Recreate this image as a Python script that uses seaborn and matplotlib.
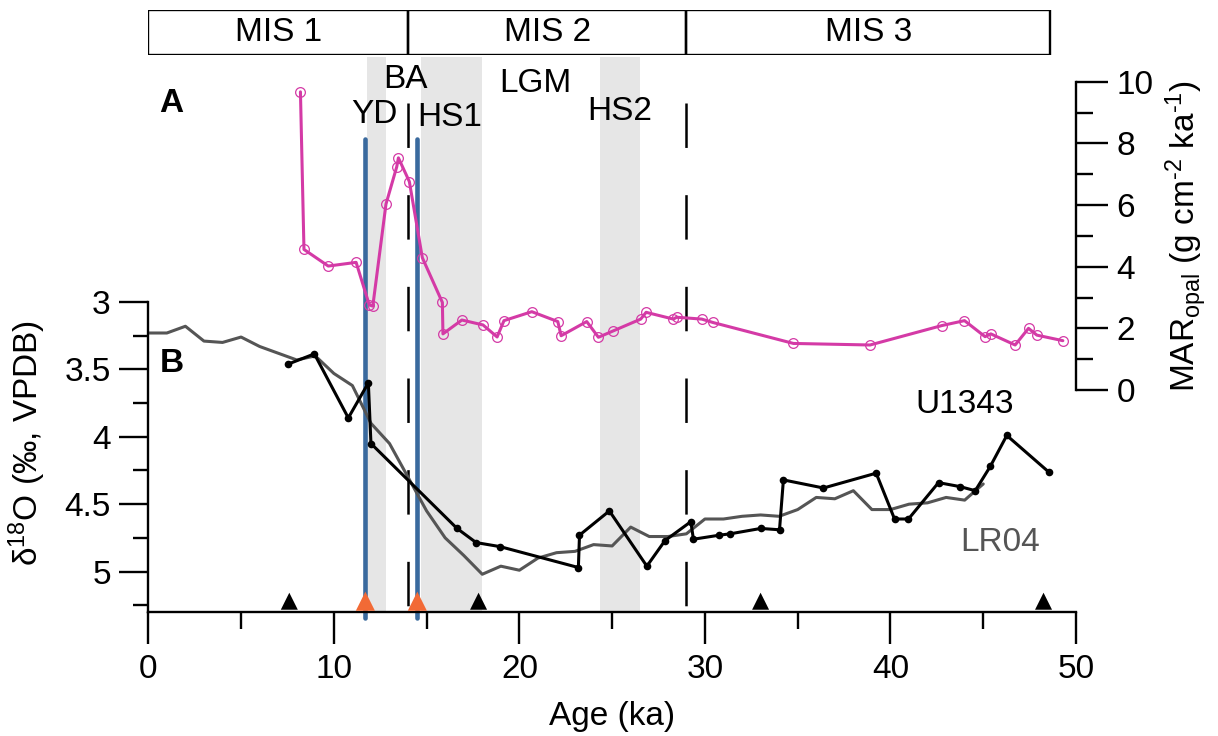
import matplotlib
matplotlib.use("Agg")
import matplotlib.pyplot as plt
from matplotlib.patches import Rectangle
from matplotlib.ticker import MultipleLocator
import seaborn as sns
import pandas as pd

# ---------------- data ----------------
# MIS stage boundaries (ka)
mis_labels = ["MIS 1", "MIS 2", "MIS 3"]
mis_start = [0.0, 14.0, 29.0]
mis_end = [14.0, 29.0, 48.6]

# shaded events (ka)
event_labels = ["YD", "HS1", "HS2"]
event_start = [11.8, 14.68, 24.35]
event_end = [12.8, 18.0, 26.5]

# dashed boundaries (ka)
dashed_ages = [14.0, 29.0]

# blue marker lines / orange triangles (ka)
blue_ages = [11.7, 14.5]

# black triangles (ka)
tri_ages = [7.6, 17.8, 33.0, 48.25]

# A: MAR opal
mar_age = [8.20, 8.39, 9.70, 11.20, 11.91, 12.10, 12.81, 13.39, 13.48, 14.07, 14.77,
           15.85, 15.88, 16.90, 18.04, 18.80, 19.17, 20.67, 22.07, 22.25, 23.63, 24.26,
           25.07, 26.54, 26.83, 28.30, 28.48, 29.83, 30.43, 34.77, 38.90, 42.77, 43.99,
           45.10, 45.41, 46.72, 47.44, 47.89, 49.29]
mar_val = [9.67, 4.56, 4.02, 4.14, 2.76, 2.72, 6.03, 7.24, 7.53, 6.76, 4.29,
           2.84, 1.82, 2.27, 2.11, 1.72, 2.25, 2.54, 2.22, 1.76, 2.22, 1.71,
           1.92, 2.30, 2.52, 2.30, 2.36, 2.30, 2.19, 1.51, 1.46, 2.09, 2.25,
           1.73, 1.82, 1.46, 2.00, 1.78, 1.60]

# B: U1343 d18O
u_age = [7.55, 8.95, 10.78, 11.86, 12.00, 16.64, 17.67, 18.96, 23.18, 23.24, 24.85,
         26.87, 27.85, 29.24, 29.38, 30.78, 31.36, 33.01, 34.02, 34.23, 36.39, 39.23,
         40.22, 40.97, 42.59, 43.76, 44.57, 45.38, 46.27, 48.52]
u_val = [3.46, 3.385, 3.86, 3.60, 4.05, 4.68, 4.785, 4.815, 4.97, 4.73, 4.55,
         4.96, 4.77, 4.63, 4.76, 4.73, 4.72, 4.68, 4.69, 4.32, 4.38, 4.27,
         4.61, 4.61, 4.34, 4.37, 4.40, 4.22, 3.99, 4.26]

# B: LR04 stack
lr_age = list(range(0, 46))
lr_val = [3.23, 3.23, 3.18, 3.29, 3.30, 3.26, 3.33, 3.38, 3.43, 3.40, 3.53, 3.62,
          3.90, 4.05, 4.30, 4.55, 4.75, 4.88, 5.02, 4.96, 4.99, 4.90, 4.86, 4.85,
          4.80, 4.81, 4.67, 4.74, 4.74, 4.72, 4.61, 4.61, 4.59, 4.58, 4.59, 4.54,
          4.45, 4.46, 4.40, 4.54, 4.54, 4.50, 4.49, 4.45, 4.47, 4.35]

# ---------------- style ----------------
sns.set_style("white")
plt.rcParams["font.family"] = ["Liberation Sans", "DejaVu Sans"]
plt.rcParams["mathtext.fontset"] = "custom"
plt.rcParams["mathtext.rm"] = "Liberation Sans"
plt.rcParams["mathtext.it"] = "Liberation Sans:italic"
plt.rcParams["lines.scale_dashes"] = False
for k in ("text.color", "axes.labelcolor", "xtick.color", "ytick.color", "axes.edgecolor"):
    plt.rcParams[k] = "black"

PINK = "#d43aa6"
BLUE = "#3a6a9e"
ORANGE = "#f26a36"
GREY = "#555555"
SHADE = "#e6e6e6"
FS = 24
W, H = 1218, 736

fig = plt.figure(figsize=(W / 100, H / 100), dpi=100)


def rect(x0, y0_top, x1, y1_bottom):
    return [x0 / W, 1 - y1_bottom / H, (x1 - x0) / W, (y1_bottom - y0_top) / H]


XL, XR = 148.3, 1076.0

# background axes: shading, dashed lines, blue lines, labels
bg = fig.add_axes(rect(XL, 57, XR, 612))
bg.set_xlim(0, 50)
bg.set_ylim(0, 1)
bg.axis("off")
for s, e in zip(event_start, event_end):
    bg.axvspan(s, e, color=SHADE, lw=0, zorder=0)
top_dash = 1 - (103 - 57) / 555
for a in dashed_ages:
    bg.plot([a, a], [top_dash, 0], color="black", lw=1.8, dashes=(32, 34), zorder=2)
top_blue = 1 - (139 - 57) / 555
for a in blue_ages:
    bg.plot([a, a], [top_blue, -0.01], color=BLUE, lw=3.3, zorder=3,
            solid_capstyle="round", clip_on=False)


def fy(py):
    return 1 - (py - 57) / 555


bg.text(13.85, fy(80), "BA", ha="center", va="center", fontsize=FS)
bg.text(12.2, fy(114), "YD", ha="center", va="center", fontsize=FS)
bg.text(16.25, fy(118), "HS1", ha="center", va="center", fontsize=FS)
bg.text(20.85, fy(84), "LGM", ha="center", va="center", fontsize=FS)
bg.text(25.4, fy(111), "HS2", ha="center", va="center", fontsize=FS)
bg.text(0.6, fy(103), "A", ha="left", va="center", fontsize=FS, fontweight="bold")
bg.text(0.6, fy(363), "B", ha="left", va="center", fontsize=FS, fontweight="bold")

# MIS bar
mis = fig.add_axes(rect(XL, 10, XR, 55))
mis.set_xlim(0, 50)
mis.set_ylim(0, 1)
mis.axis("off")
for lab, s, e in zip(mis_labels, mis_start, mis_end):
    mis.add_patch(Rectangle((s, 0), e - s, 1, fill=False, ec="black", lw=1.7))
    mis.text((s + e) / 2, 0.5, lab, ha="center", va="center", fontsize=FS)

# panel B
axB = fig.add_axes(rect(XL, 302, XR, 612))
axB.patch.set_alpha(0)
df_lr = pd.DataFrame({"age": lr_age, "d18O": lr_val})
df_u = pd.DataFrame({"age": u_age, "d18O": u_val})
sns.lineplot(data=df_lr, x="age", y="d18O", color=GREY, lw=2.2, sort=False, ax=axB)
sns.lineplot(data=df_u, x="age", y="d18O", color="black", lw=2.2, sort=False,
             marker="o", markersize=5.5, markeredgewidth=0, ax=axB)
sns.scatterplot(x=tri_ages, y=[5.22] * len(tri_ages), marker="^", s=150,
                color="black", edgecolor="none", ax=axB, zorder=5)
sns.scatterplot(x=blue_ages, y=[5.22] * len(blue_ages), marker="^", s=190,
                color=ORANGE, edgecolor="none", ax=axB, zorder=6)
axB.set_xlim(0, 50)
axB.set_ylim(5.3, 3.0)
axB.spines["top"].set_visible(False)
axB.spines["right"].set_visible(False)
for sp in ("left", "bottom"):
    axB.spines[sp].set_linewidth(1.7)
axB.xaxis.set_major_locator(MultipleLocator(10))
axB.xaxis.set_minor_locator(MultipleLocator(5))
axB.yaxis.set_major_locator(MultipleLocator(0.5))
axB.yaxis.set_minor_locator(MultipleLocator(0.25))
axB.tick_params(axis="x", which="major", direction="out", length=23, width=1.7,
                labelsize=FS, pad=7, bottom=True)
axB.tick_params(axis="x", which="minor", direction="out", length=12, width=1.7, bottom=True)
axB.tick_params(axis="y", which="major", direction="out", length=21, width=1.7,
                labelsize=FS, pad=6, left=True)
axB.tick_params(axis="y", which="minor", direction="out", length=11, width=1.7, left=True)
axB.yaxis.set_major_formatter(plt.FuncFormatter(lambda v, p: f"{v:g}"))
axB.set_xlabel("Age (ka)", fontsize=FS, labelpad=12)
axB.set_ylabel("δ$^{18}$O (‰, VPDB)", fontsize=FS)
axB.yaxis.set_label_coords(-0.108, 0.545)
axB.text(44.0, 3.76, "U1343", fontsize=FS, color="black", ha="center", va="center")
axB.text(45.9, 4.785, "LR04", fontsize=FS, color=GREY, ha="center", va="center")

# panel A
axA = fig.add_axes(rect(XL, 81.7, XR, 390))
axA.patch.set_alpha(0)
df_mar = pd.DataFrame({"age": mar_age, "mar": mar_val})
sns.lineplot(data=df_mar, x="age", y="mar", color=PINK, lw=2.2, sort=False,
             marker="o", markersize=7, markerfacecolor="none", markeredgecolor=PINK,
             markeredgewidth=0.9, ax=axA)
axA.set_xlim(0, 50)
axA.set_ylim(0, 10)
for sp in ("top", "left", "bottom"):
    axA.spines[sp].set_visible(False)
axA.spines["right"].set_linewidth(1.7)
axA.yaxis.tick_right()
axA.yaxis.set_label_position("right")
axA.set_xticks([])
axA.set_xlabel("")
axA.yaxis.set_major_locator(MultipleLocator(2))
axA.yaxis.set_minor_locator(MultipleLocator(1))
axA.tick_params(axis="y", which="major", direction="out", length=23, width=1.7,
                labelsize=FS, pad=6, right=True, left=False)
axA.tick_params(axis="y", which="minor", direction="out", length=12, width=1.7,
                right=True, left=False)
axA.set_ylabel("MAR$_{\\mathrm{opal}}$ (g cm$^{\u2010\\mathrm{2}}$ ka$^{\u2010\\mathrm{1}}$)",
               fontsize=FS, labelpad=8)

fig.savefig("out.png", dpi=100)
